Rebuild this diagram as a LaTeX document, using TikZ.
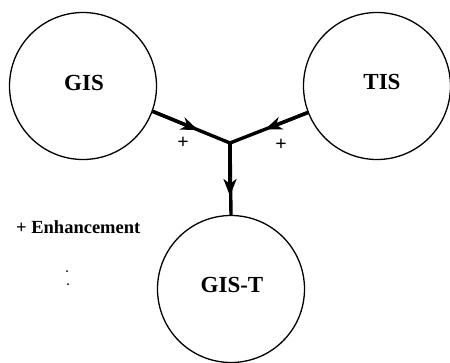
\documentclass[tikz,border=0pt]{standalone}
\usepackage{fontspec}
\setmainfont{Liberation Serif}
\usetikzlibrary{arrows.meta}
\begin{document}
\begin{tikzpicture}[x=1pt,y=-1pt,
  sys/.style={circle,draw,line width=1.3pt,minimum size=147pt,inner sep=0pt},
  syslabel/.style={font=\bfseries\fontsize{23}{23}\selectfont,inner sep=0pt},
  signlabel/.style={font=\bfseries\fontsize{20}{20}\selectfont,inner sep=0pt},
  flowline/.style={line width=3.4pt},
  headed/.style={flowline,-{Stealth[length=17pt,width=13pt,inset=5pt]}}]
\useasboundingbox (0,0) rectangle (450,362);

% the three systems
\node[sys] (gis)  at (83,86)   {};
\node[sys] (tis)  at (377,86)  {};
\node[sys] (gist) at (231,289) {};
\node[syslabel] (gisl)  at (84,83)   {GIS};
\node[syslabel] (tisl)  at (382,82)  {TIS};
\node[syslabel] (gistl) at (232,285) {GIS-T};

% junction where the two inputs merge, and the arrow tip points
\coordinate (j)  at (230,143);
\coordinate (a1) at (198,130);
\coordinate (a2) at (265,129.5);
\coordinate (a3) at (230,196);

% the inputs meet in a sharp corner at the junction
\draw[flowline,line join=miter] (gis.-20) -- (j) -- (tis.-159);
\draw[flowline] (j) -- (gist.north);

% arrowheads along each connector
\draw[headed] (gis.-20) -- (a1);
\draw[headed] (tis.-159) -- (a2);
\draw[headed] (j) -- (a3);

% enhancement signs
\node[signlabel] (p1) at (183,143) {+};
\node[signlabel] (p2) at (281,145) {+};

% legend
\node[font=\bfseries\fontsize{18.5}{18.5}\selectfont,anchor=west,inner sep=0pt] (leg) at (16,227) {+ Enhancement};

% stray marks
\fill (67,271) circle (1pt);
\fill (68,284) circle (1pt);
\end{tikzpicture}
\end{document}
